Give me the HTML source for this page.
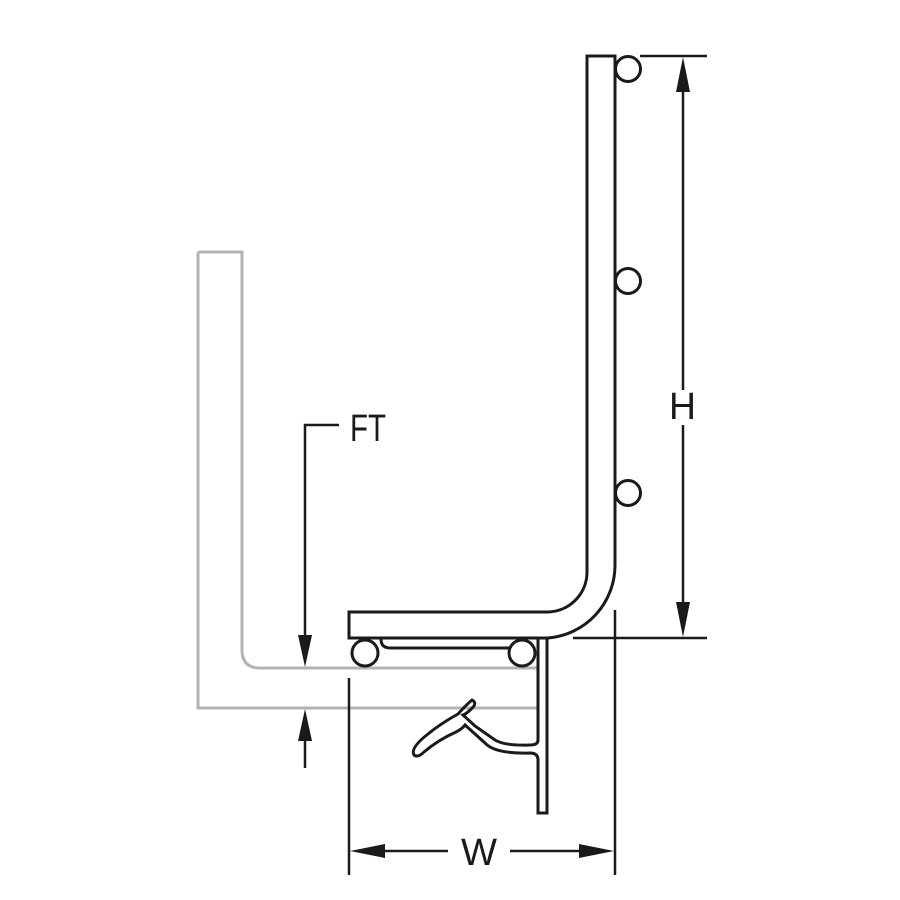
<!DOCTYPE html>
<html><head><style>body{margin:0;background:#fff}svg{display:block}</style></head>
<body>
<svg width="900" height="900" viewBox="0 0 900 900" xmlns="http://www.w3.org/2000/svg">
<rect width="900" height="900" fill="#fff"/>
<!-- gray wall -->
<path d="M198,252 H242 V650 Q242,668 260,668 H537 M198,252 V708 H537" fill="none" stroke="#b3b3b3" stroke-width="3"/>
<g fill="none" stroke="#1a1a1a" stroke-width="3">
<!-- main profile -->
<path d="M587,56 H615 V565 A73,73 0 0 1 548,638 H349 V612 H548 A40,40 0 0 0 587,572 Z" fill="#fff"/>
<!-- circles -->
<circle cx="628" cy="69" r="12.5" fill="#fff"/>
<circle cx="628" cy="281" r="12.5" fill="#fff"/>
<circle cx="628" cy="493" r="12.5" fill="#fff"/>
<circle cx="365" cy="653" r="13" fill="#fff"/>
<circle cx="522" cy="653" r="13" fill="#fff"/>
<!-- channel -->
<path d="M381,639 Q381,648 390,648 H510"/>
<!-- strip & seal -->
<path d="M538,639 V740 Q538,745 530,745 Q505,746 495,740 L475,726 L463,715 Q468,713 474,706 Q476,702 472,700 Q466,705 458,714 Q440,724 428,734 Q410,748 414,755 Q418,758 424,752 Q438,740 456,732 Q462,729 465,725 L485,743 Q495,754 530,753 Q538,753 538,760 V813 H547 V639"/>
<!-- dimension lines -->
<line x1="640" y1="56" x2="707" y2="56" stroke-width="2.5"/>
<line x1="573" y1="638" x2="707" y2="638" stroke-width="2.5"/>
<line x1="683" y1="90" x2="683" y2="390" stroke-width="2.5"/>
<line x1="683" y1="425" x2="683" y2="605" stroke-width="2.5"/>
<line x1="349" y1="678" x2="349" y2="875" stroke-width="2.5"/>
<line x1="615" y1="610" x2="615" y2="875" stroke-width="2.5"/>
<line x1="380" y1="851" x2="448" y2="851" stroke-width="2.5"/>
<line x1="510" y1="851" x2="585" y2="851" stroke-width="2.5"/>
<path d="M339,425 H305 V640" stroke-width="2.5"/>
<line x1="305" y1="735" x2="305" y2="768" stroke-width="2.5"/>
</g>
<g fill="#1a1a1a">
<polygon points="683,57 676,92 690,92"/>
<polygon points="683,637 676,602 690,602"/>
<polygon points="350,851 385,844 385,858"/>
<polygon points="614,851 579,844 579,858"/>
<polygon points="305,667 298,635 312,635"/>
<polygon points="305,709 298,741 312,741"/>
</g>
<g font-family="Liberation Sans, sans-serif" font-size="38" fill="#1a1a1a">
<text x="350" y="441" textLength="36" lengthAdjust="spacingAndGlyphs">FT</text>
<text x="669" y="419" textLength="27" lengthAdjust="spacingAndGlyphs">H</text>
<text x="461" y="865" textLength="36" lengthAdjust="spacingAndGlyphs">W</text>
</g>
</svg>
</body></html>
